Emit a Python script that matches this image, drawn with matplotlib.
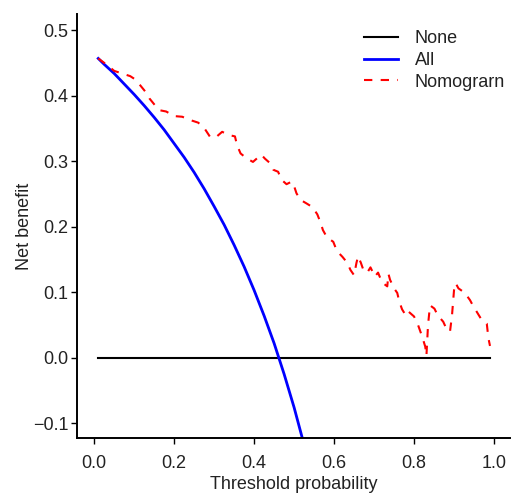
import matplotlib
matplotlib.use("Agg")
import matplotlib.pyplot as plt

plt.rcParams['font.family'] = ['Liberation Sans', 'DejaVu Sans']

# threshold probabilities / net benefit
none_t = [0.01, 0.99]
none_nb = [0.0, 0.0]

all_t = [0.01, 0.025, 0.05, 0.075, 0.10, 0.125, 0.15, 0.175, 0.20, 0.225, 0.25,
         0.275, 0.30, 0.325, 0.35, 0.375, 0.40, 0.425, 0.45, 0.475, 0.50, 0.525]
all_nb = [0.457, 0.448, 0.434, 0.418, 0.402, 0.385, 0.367, 0.348, 0.327, 0.306, 0.283,
          0.258, 0.231, 0.203, 0.172, 0.139, 0.103, 0.064, 0.022, -0.025, -0.076, -0.133]

nomo_t = [0.01, 0.03, 0.05, 0.07, 0.09, 0.10, 0.115, 0.127, 0.138, 0.15,
          0.163, 0.18, 0.20, 0.22, 0.245, 0.26, 0.275, 0.29, 0.305, 0.32,
          0.337, 0.352, 0.357, 0.366, 0.38, 0.397, 0.41, 0.418, 0.427, 0.44,
          0.448, 0.46, 0.468, 0.481, 0.494, 0.50, 0.506, 0.516, 0.53, 0.546,
          0.558, 0.567, 0.572, 0.582, 0.598, 0.607, 0.621, 0.633, 0.641, 0.65,
          0.656, 0.66, 0.667, 0.675, 0.684, 0.691, 0.702, 0.71, 0.72, 0.733,
          0.736, 0.74, 0.75, 0.758, 0.763, 0.77, 0.78, 0.787, 0.80, 0.81,
          0.817, 0.823, 0.828, 0.831, 0.835, 0.84, 0.851, 0.859, 0.873, 0.882,
          0.89, 0.895, 0.90, 0.904, 0.911, 0.927, 0.94, 0.947, 0.957, 0.969,
          0.982, 0.986, 0.99]
nomo_nb = [0.457, 0.448, 0.438, 0.434, 0.430, 0.426, 0.416, 0.407, 0.396, 0.387,
           0.378, 0.376, 0.369, 0.368, 0.362, 0.359, 0.351, 0.337, 0.337, 0.345,
           0.340, 0.338, 0.325, 0.312, 0.305, 0.299, 0.306, 0.310, 0.304, 0.297,
           0.287, 0.284, 0.272, 0.265, 0.269, 0.262, 0.251, 0.241, 0.236, 0.230,
           0.219, 0.205, 0.195, 0.184, 0.177, 0.163, 0.154, 0.145, 0.134, 0.126,
           0.145, 0.155, 0.145, 0.131, 0.131, 0.138, 0.124, 0.130, 0.115, 0.109,
           0.128, 0.119, 0.106, 0.099, 0.086, 0.074, 0.064, 0.070, 0.063, 0.050,
           0.038, 0.027, 0.017, 0.003, 0.050, 0.080, 0.075, 0.065, 0.055, 0.043,
           0.040, 0.065, 0.103, 0.114, 0.106, 0.099, 0.088, 0.080, 0.070, 0.058,
           0.052, 0.030, 0.018]

xticks = [0.0, 0.2, 0.4, 0.6, 0.8, 1.0]
yticks = [-0.1, 0.0, 0.1, 0.2, 0.3, 0.4, 0.5]

fig = plt.figure(figsize=(5.11, 4.94), dpi=100)
ax = fig.add_axes([0.150, 0.1128, 0.848, 0.859])

ax.plot(none_t, none_nb, color='black', lw=1.5, label='None')
ax.plot(all_t, all_nb, color='#0000ff', lw=2.0, label='All')
ax.plot(nomo_t, nomo_nb, color='#ff0000', lw=1.5, dashes=(4, 4), label='Nomograrn')

ax.set_xlim(-0.044, 1.04)
ax.set_ylim(-0.123, 0.525)
ax.set_xticks(xticks)
ax.set_xticklabels(['%.1f' % v for v in xticks])
ax.set_yticks(yticks)
ax.set_yticklabels([('\u2212%.1f' % -v) if v < 0 else '%.1f' % v for v in yticks])

for s in ['top', 'right']:
    ax.spines[s].set_visible(False)
for s in ['left', 'bottom']:
    ax.spines[s].set_linewidth(1.4)

ax.tick_params(direction='out', length=4, width=1.0, labelsize=13,
               labelcolor='#222222')
ax.tick_params(axis='x', pad=8)
ax.tick_params(axis='y', pad=2)

ax.set_xlabel('Threshold probability', fontsize=13, color='#222222', labelpad=3)
ax.set_ylabel('Net benefit', fontsize=13, color='#222222', labelpad=0)

leg = ax.legend(loc='upper left', bbox_to_anchor=(364 / 511, 1 - 30 / 494),
                bbox_transform=fig.transFigure, frameon=False, fontsize=13,
                handlelength=1.9, handletextpad=0.9, labelspacing=0.27,
                borderpad=0, borderaxespad=0)
for t in leg.get_texts():
    t.set_color('#222222')

fig.savefig('out.png', dpi=100)
